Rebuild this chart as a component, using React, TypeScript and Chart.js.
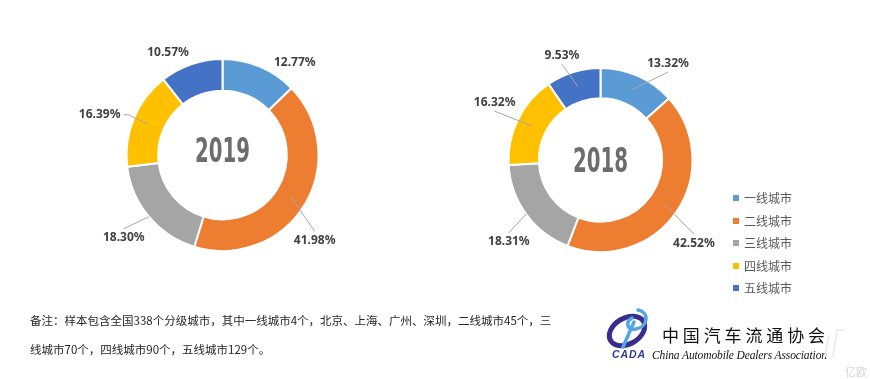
import React, { useEffect, useRef } from 'react';
import { Chart, registerables } from 'chart.js';

Chart.register(...registerables);

const CATEGORIES = ['一线城市', '二线城市', '三线城市', '四线城市', '五线城市'];
const SHARE_2019 = [12.77, 41.98, 18.30, 16.39, 10.57];
const SHARE_2018 = [13.32, 42.52, 18.31, 16.32, 9.53];
const COLORS = ['#5B9BD5', '#ED7D31', '#A5A5A5', '#FFC000', '#4472C4'];
const YEAR_A = '2019';
const YEAR_B = '2018';
const NOTE_LINE_1 = '备注：样本包含全国338个分级城市，其中一线城市4个，北京、上海、广州、深圳，二线城市45个，三';
const NOTE_LINE_2 = '线城市70个，四线城市90个，五线城市129个。';

// label layout: pixel nudges from the anchor just outside each slice
const NUDGE_A = [[25, 19], [-11, 22], [-6, 5], [-11, 6], [-15, 12]];
const LEADER_A = [false, true, true, true, false];
const LEADER_START_A = [0.5, 0.5, 1, 0.5, 0.5];
const NUDGE_B = [[20, 10], [-3, 17], [3, 13], [-1, -6], [-4, 7]];
const LEADER_B = [true, true, true, true, true];
const LEADER_START_B = [0.5, 0.5, 1, 0.5, 0.5];

const sliceLabels = {
  id: 'sliceLabels',
  afterDatasetsDraw(chart: any, _args: any, opts: any) {
    const ctx = chart.ctx;
    const meta = chart.getDatasetMeta(0);
    const values = chart.data.datasets[0].data as number[];
    ctx.save();
    ctx.font = 'bold 12px "Noto Sans", "Liberation Sans", sans-serif';
    meta.data.forEach((arc: any, i: number) => {
      const p = arc.getProps(['x', 'y', 'startAngle', 'endAngle', 'innerRadius', 'outerRadius'], true);
      const mid = (p.startAngle + p.endAngle) / 2;
      const c = Math.cos(mid);
      const s = Math.sin(mid);
      const R = p.outerRadius + 25;
      const [dx, dy] = opts.nudge[i];
      const cx = p.x + R * c + dx;
      const cy = p.y + R * s + dy;
      const text = values[i].toFixed(2) + '%';
      const w = ctx.measureText(text).width;
      const h = 12;
      if (opts.leader[i]) {
        const rs = p.innerRadius + (p.outerRadius - p.innerRadius) * opts.leaderStart[i];
        const sx = p.x + rs * c;
        const sy = p.y + rs * s;
        const left = cx - w / 2 - 3;
        const right = cx + w / 2 + 3;
        const top = cy - h / 2 - 3;
        const bottom = cy + h / 2 + 3;
        const hx = sx < left ? left - sx : sx > right ? sx - right : 0;
        const vy = sy < top ? top - sy : sy > bottom ? sy - bottom : 0;
        ctx.beginPath();
        ctx.strokeStyle = '#A6A6A6';
        ctx.lineWidth = 1;
        if (vy > hx) {
          ctx.moveTo(sx, sy);
          ctx.lineTo(cx, sy < top ? top : bottom);
        } else {
          const ex = sx < left ? left : right;
          const stub = sx < left ? ex - 5 : ex + 5;
          ctx.moveTo(sx, sy);
          ctx.lineTo(stub, cy);
          ctx.lineTo(ex, cy);
        }
        ctx.stroke();
      }
      ctx.fillStyle = '#404040';
      ctx.textAlign = 'center';
      ctx.textBaseline = 'middle';
      ctx.fillText(text, cx, cy);
    });
    ctx.restore();
  },
};

const centerYear = {
  id: 'centerYear',
  afterDraw(chart: any, _args: any, opts: any) {
    const ctx = chart.ctx;
    const arc = chart.getDatasetMeta(0).data[0];
    ctx.save();
    ctx.font = 'bold 33px "DejaVu Sans Condensed", "DejaVu Sans", sans-serif';
    const w = ctx.measureText(opts.text).width;
    const sc = opts.width / w;
    ctx.translate(arc.x, arc.y + opts.baseline);
    ctx.scale(sc, 1);
    ctx.fillStyle = '#6D6D6D';
    ctx.textAlign = 'center';
    ctx.textBaseline = 'alphabetic';
    ctx.fillText(opts.text, 0, 0);
    ctx.restore();
  },
};

function Donut(props: {
  values: number[];
  year: string;
  left: number;
  width: number;
  height: number;
  padding: any;
  nudge: number[][];
  leader: boolean[];
  leaderStart: number[];
  textWidth: number;
  baseline: number;
}) {
  const ref = useRef<HTMLCanvasElement>(null);
  useEffect(() => {
    const chart = new Chart(ref.current as HTMLCanvasElement, {
      type: 'doughnut',
      data: {
        labels: CATEGORIES,
        datasets: [
          {
            data: props.values,
            backgroundColor: COLORS,
            borderColor: '#FFFFFF',
            borderWidth: 2,
            hoverOffset: 0,
            hoverBorderWidth: 2,
          },
        ],
      },
      options: {
        responsive: false,
        animation: false,
        cutout: '67%',
        rotation: 0,
        layout: { padding: props.padding },
        plugins: {
          legend: { display: false },
          tooltip: { enabled: false },
          sliceLabels: { nudge: props.nudge, leader: props.leader, leaderStart: props.leaderStart },
          centerYear: { text: props.year, width: props.textWidth, baseline: props.baseline },
        } as any,
      },
      plugins: [sliceLabels, centerYear],
    });
    return () => chart.destroy();
  }, []);
  return (
    <canvas
      ref={ref}
      width={props.width}
      height={props.height}
      style={{ position: 'absolute', left: props.left, top: 0, width: props.width, height: props.height }}
    />
  );
}

const LEGEND_TOPS = [198, 221, 243, 266, 288];

export default function App() {
  return (
    <div
      style={{
        position: 'fixed',
        left: 0,
        top: 0,
        width: 870,
        height: 379,
        background: '#FFFFFF',
        overflow: 'hidden',
        fontFamily: '"Noto Sans CJK SC", "Noto Sans", sans-serif',
      }}
    >
      <Donut
        values={SHARE_2019}
        year={YEAR_A}
        left={0}
        width={435}
        height={300}
        padding={{ left: 125.5, right: 115.5, top: 58, bottom: 48 }}
        nudge={NUDGE_A}
        leader={LEADER_A}
        leaderStart={LEADER_START_A}
        textWidth={55}
        baseline={7}
      />
      <Donut
        values={SHARE_2018}
        year={YEAR_B}
        left={435}
        width={300}
        height={300}
        padding={{ left: 72.5, right: 41.5, top: 67, bottom: 47 }}
        nudge={NUDGE_B}
        leader={LEADER_B}
        leaderStart={LEADER_START_B}
        textWidth={55}
        baseline={12}
      />
      {CATEGORIES.map((c, i) => (
        <div key={c} style={{ position: 'absolute', left: 733, top: LEGEND_TOPS[i] - 8, height: 16, display: 'flex', alignItems: 'center' }}>
          <div style={{ width: 6, height: 6, background: COLORS[i], marginRight: 5 }} />
          <span style={{ fontSize: 12, color: '#595959', lineHeight: '16px' }}>{c}</span>
        </div>
      ))}
      <svg width={870} height={379} style={{ position: 'absolute', left: 0, top: 0 }}>
        <text x={30} y={325} fontSize={11.5} fill="#262626" fontFamily='"Noto Sans CJK SC", sans-serif'>
          {NOTE_LINE_1}
        </text>
        <text x={30} y={353.5} fontSize={11.5} fill="#262626" fontFamily='"Noto Sans CJK SC", sans-serif'>
          {NOTE_LINE_2}
        </text>
        {/* association logo */}
        <g>
          <ellipse cx={627} cy={331} rx={19} ry={13} fill="none" stroke="#3A2B8E" strokeWidth={5} transform="rotate(-30 627 331)" />
          <path d="M638 310 C 650 312, 648 327, 636 329 C 627 331, 625 322, 632 318 M634 322 L 623 347" fill="none" stroke="#52A7E3" strokeWidth={3.5} strokeLinecap="round" />
          <text x={612} y={358} fontSize={10.5} fontWeight="bold" fontStyle="italic" fill="#2D3A9A" fontFamily='"Liberation Sans", sans-serif' textLength={33}>
            CADA
          </text>
          <text x={662} y={342} fontSize={17} fill="#111111" textLength={163} fontFamily='"Noto Sans CJK SC", sans-serif'>
            中国汽车流通协会
          </text>
          <text x={652} y={359} fontSize={11.5} fontStyle="italic" fill="#111111" textLength={175} fontFamily='"Liberation Serif", serif'>
            China Automobile Dealers Association
          </text>
          <text x={845} y={376} fontSize={11} fill="#D6D6D6" fontFamily='"Noto Sans CJK SC", sans-serif'>
            亿欧
          </text>
          <path d="M825 357 L 829 335 M 833 357 L 837 330 L 845 330" fill="none" stroke="#EDEDED" strokeWidth={2} />
        </g>
      </svg>
    </div>
  );
}
